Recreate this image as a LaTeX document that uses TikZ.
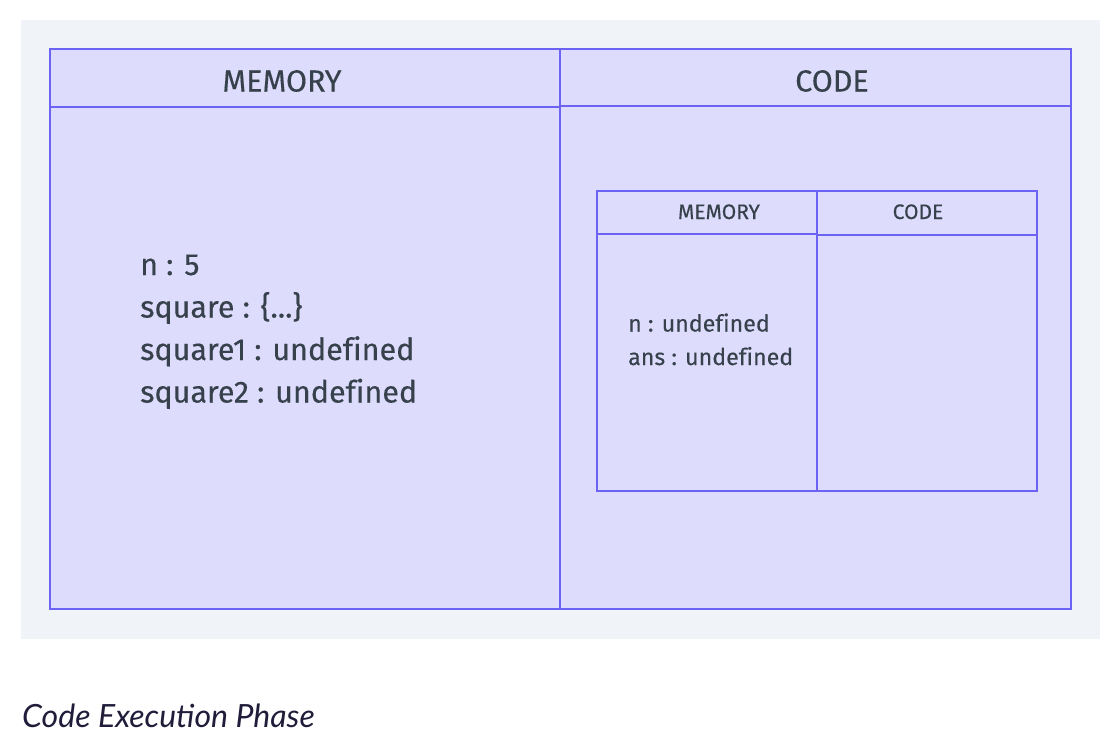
\documentclass[tikz,border=0pt]{standalone}
\usepackage{fontspec}
\setmainfont{Fira Sans}[Ligatures=NoCommon, FakeBold=0.3]
\newfontfamily\capfont{Lato}
\definecolor{panelgray}{HTML}{F0F3F7}
\definecolor{lav}{HTML}{DDDCFD}
\definecolor{edge}{HTML}{6C63F5}
\definecolor{txt}{HTML}{36414B}
\definecolor{captxt}{HTML}{1F1D3A}
\tikzset{
  box/.style={draw=edge, line width=2.4pt},
  bighead/.style={anchor=base, text=txt, inner sep=0pt, font=\fontsize{30.5}{34}\selectfont},
  smallhead/.style={anchor=base, text=txt, inner sep=0pt, font=\fontsize{21}{25}\selectfont},
  bigtxt/.style={anchor=base west, text=txt, inner sep=0pt, font=\fontsize{30.5}{36}\selectfont},
  smalltxt/.style={anchor=base west, text=txt, inner sep=0pt, font=\fontsize{23.2}{27}\selectfont},
}
\begin{document}
\begin{tikzpicture}[x=1pt,y=-1pt]
\useasboundingbox (0,0) rectangle (1116,742);
\fill[panelgray] (21,20) rectangle (1100,639);
% outer frame
\filldraw[box, fill=lav] (50,49) rectangle (1071,609);
\draw[box] (50,107) -- (560,107);
\draw[box] (560,106) -- (1071,106);
\draw[box] (560,49) -- (560,609);
\node[bighead] (memhead) at (282,91.5) {MEMORY};
\node[bighead] (codehead) at (832,91.5) {CODE};
% left memory contents
\node[bigtxt] (l1) at (140,275) {n : 5};
\node[bigtxt] (l2) at (140,317.5) {square : \{...\}};
\node[bigtxt] (l3) at (140,360) {square1 : undefined};
\node[bigtxt] (l4) at (140,402.5) {square2 : undefined};
% inner frame
\draw[box] (597,191) rectangle (1037,491);
\draw[box] (597,234) -- (817,234);
\draw[box] (817,235) -- (1037,235);
\draw[box] (817,191) -- (817,491);
\node[smallhead] (imem) at (719,219) {MEMORY};
\node[smallhead] (icode) at (918,219) {CODE};
\node[smalltxt] (i1) at (628,331.5) {n : undefined};
\node[smalltxt] (i2) at (628,365) {ans : undefined};
% caption
\node[anchor=base west, inner sep=0pt, text=captxt, font=\capfont\itshape\fontsize{32}{38}\selectfont] (cap) at (22,727) {Code Execution Phase};
\end{tikzpicture}
\end{document}
